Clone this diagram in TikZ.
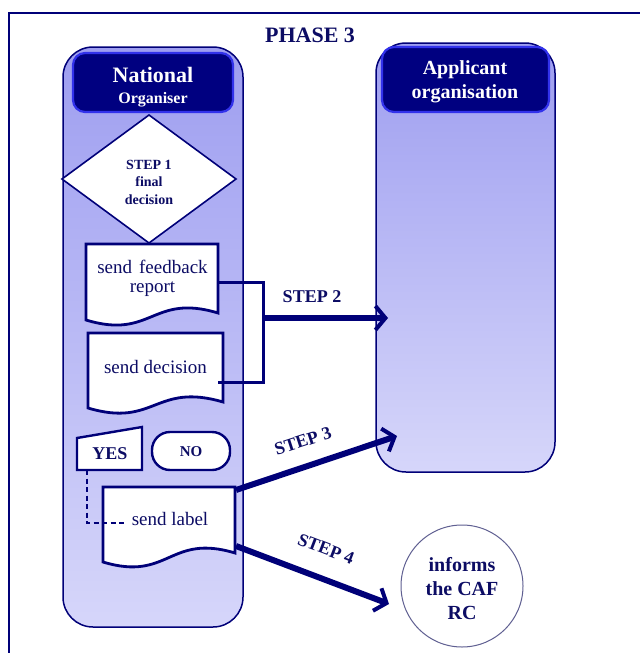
\documentclass[tikz,border=0pt]{standalone}
\usepackage{fontspec}
\setmainfont{Liberation Serif}
\usetikzlibrary{arrows.meta}
\definecolor{navy}{RGB}{0,0,120}
\definecolor{hdr}{RGB}{0,0,128}
\definecolor{hdrrim}{RGB}{50,50,235}
\definecolor{lanetop}{RGB}{158,158,240}
\definecolor{lanebot}{RGB}{214,214,250}
\definecolor{txt}{RGB}{12,12,100}
\definecolor{circ}{RGB}{95,95,145}
\newcommand\fsz[2]{\fontsize{#1}{#2}\selectfont}
\tikzset{
  lane/.style={draw=navy, line width=1.5pt, rounded corners=30pt, top color=lanetop, bottom color=lanebot},
  header/.style={draw=hdrrim, line width=2.2pt, fill=hdr, rounded corners=12pt},
  hdrtext/.style={text=white, font=\bfseries, inner sep=0pt},
  doc/.style={draw=navy, line width=2.8pt, fill=white},
  smallbox/.style={draw=navy, line width=2.4pt, fill=white},
  doctext/.style={text=txt, inner sep=0pt, font=\fsz{19}{22}},
  steptext/.style={text=txt, inner sep=0pt, font=\fsz{18}{22}\bfseries},
  bracket/.style={draw=navy, line width=3pt},
  flow/.style={draw=navy, line width=6pt, -{Straight Barb[length=10pt,width=24pt,line width=4pt]}},
}
\begin{document}
\begin{tikzpicture}[x=1pt,y=-1pt]
\useasboundingbox (0,0) rectangle (640,653);
\fill[white] (0,0) rectangle (640,653);
% frame
\draw[navy, line width=1.3pt] (9,653) -- (9,13) -- (640,13);
% title
\node[text=txt, font=\fsz{22}{26}\bfseries, inner sep=0pt] (phase) at (310,35) {PHASE 3};
% lanes
\draw[lane] (63,47) rectangle (243,627);
\draw[lane] (376,43) rectangle (555,472);
\draw[header] (73,53) rectangle (233,112);
\draw[header] (382,47) rectangle (549,112);
\node[hdrtext, font=\fsz{22}{26}\bfseries] (nat1) at (153,75) {National};
\node[hdrtext, font=\fsz{16}{19}\bfseries] (nat2) at (153,100) {Organiser};
\node[hdrtext, font=\fsz{20}{24}\bfseries] (app1) at (465,70) {Applicant};
\node[hdrtext, font=\fsz{20}{24}\bfseries] (app2) at (465,94) {organisation};
% diamond
\draw[draw=navy, line width=1.6pt, fill=white] (149,115) -- (236,179) -- (149,243) -- (62,179) -- cycle;
\node[text=txt, font=\fsz{14}{17.5}\bfseries, align=center, inner sep=0pt] (step1) at (149,182) {STEP 1\\final\\decision};
% documents
\draw[doc] (86,320) -- (86,244) -- (218,244) -- (218,313) .. controls (152,293) and (152,340) .. (86,320) -- cycle;
\node[doctext] (fb1) at (152.5,267) {send\hspace{7pt}feedback};
\node[doctext] (fb2) at (152.5,289) {report};
\draw[doc] (88,408) -- (88,333) -- (223,333) -- (223,402) .. controls (155,382) and (155,428) .. (88,408) -- cycle;
\node[doctext] (sd) at (155.5,367) {send decision};
\draw[doc] (103,562) -- (103,487) -- (235,487) -- (235,553) .. controls (169,533) and (169,582) .. (103,562) -- cycle;
\node[doctext] (sl) at (170,519) {send label};
% YES / NO
\draw[smallbox] (77,438) -- (142,427) -- (142,470) -- (77,470) -- cycle;
\node[text=txt, font=\fsz{18}{22}\bfseries, inner sep=0pt] (yes) at (110,454) {YES};
\draw[smallbox, rounded corners=18pt] (152,432) rectangle (230,470);
\node[text=txt, font=\fsz{15}{18}\bfseries, inner sep=0pt] (no) at (191,452) {NO};
% dashed link
\coordinate (yesB) at (87,470);
\coordinate (yesC) at (87,523);
\coordinate (slL) at (125,523);
\draw[navy, line width=2.8pt, dash pattern=on 5pt off 3.5pt] (yesB) -- (yesC) -- (slL);
% circle
\node[circle, draw=circ, line width=1pt, fill=white, minimum size=122pt, inner sep=0pt] (caf) at (462,586) {};
\node[text=txt, font=\fsz{20}{24}\bfseries, align=center, inner sep=0pt] (caftext) at (462,589) {informs\\the CAF\\RC};
% step 2 bracket
\coordinate (fbR) at (218,282);
\coordinate (brT) at (263,282);
\coordinate (brB) at (263,382);
\coordinate (sdR) at (218,382);
\coordinate (s2a) at (263,318);
\coordinate (s2b) at (388,318);
\draw[bracket] (fbR) -- (brT) -- (brB) -- (sdR);
\draw[flow] (s2a) -- (s2b);
\node[steptext] (l2) at (312,297) {STEP 2};
% step 3
\coordinate (s3a) at (236,490);
\coordinate (s3b) at (397,436);
\draw[flow] (s3a) -- (s3b);
\node[steptext, rotate=18] (l3) at (303,441) {STEP 3};
% step 4
\coordinate (s4a) at (236,546);
\coordinate (s4b) at (389,604);
\draw[flow] (s4a) -- (s4b);
\node[steptext, rotate=-21] (l4) at (326,549) {STEP 4};
\end{tikzpicture}
\end{document}
